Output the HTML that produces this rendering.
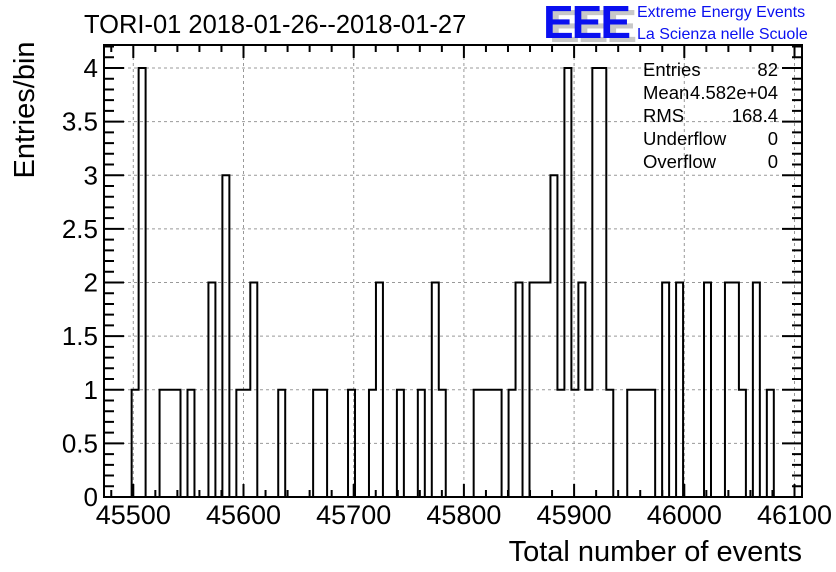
<!DOCTYPE html>
<html><head><meta charset="utf-8"><style>
html,body{margin:0;padding:0;background:#fff;}
svg{display:block;font-family:"Liberation Sans",Arial,sans-serif;}
</style></head><body>
<svg id="chart" width="836" height="572" viewBox="0 0 836 572" xmlns="http://www.w3.org/2000/svg">
<rect width="836" height="572" fill="#fff"/>
<g id="grid"></g>
<g id="hist"></g>
<g id="axes"></g>
<text x="84" y="33" font-size="25.5">TORI-01 2018-01-26--2018-01-27</text>
<text transform="translate(34,110) rotate(-90)" text-anchor="middle" font-size="29">Entries/bin</text>
<text x="802" y="561" text-anchor="end" font-size="29">Total number of events</text>
<g>
<text x="549" y="42" font-size="46" font-weight="bold" fill="#c8c8c8" letter-spacing="-2">EEE</text>
<text x="543" y="38" font-size="46" font-weight="bold" fill="#0a10f0" letter-spacing="-2">EEE</text>
<text x="637" y="17" font-size="16" fill="#0a10f0">Extreme Energy Events</text>
<text x="637" y="39" font-size="16" fill="#0a10f0">La Scienza nelle Scuole</text>
</g>
<g font-size="18.5">
<text x="643" y="76">Entries</text><text x="778" y="76" text-anchor="end">82</text>
<text x="643" y="99">Mean</text><text x="778" y="99" text-anchor="end">4.582e+04</text>
<text x="643" y="122">RMS</text><text x="778" y="122" text-anchor="end">168.4</text>
<text x="643" y="145">Underflow</text><text x="778" y="145" text-anchor="end">0</text>
<text x="643" y="168">Overflow</text><text x="778" y="168" text-anchor="end">0</text>
</g>
</svg>
<script>
const firstEdge = 45498.5;
const binWidth = 6.334;
const binCounts = [1,4,0,0,1,1,1,0,1,0,0,2,0,3,0,1,1,2,0,0,0,1,0,0,0,0,1,1,0,0,0,1,0,0,1,2,0,0,1,0,0,1,0,2,1,0,0,0,0,1,1,1,1,0,1,2,0,2,2,2,3,1,4,1,2,1,4,4,1,0,0,1,1,1,1,0,2,0,2,0,0,0,2,0,0,2,2,1,0,2,0,1];
const xTicks = [45500,45600,45700,45800,45900,46000,46100];
const yTicks = [0,0.5,1,1.5,2,2.5,3,3.5,4];
const yTickLabels = ["0","0.5","1","1.5","2","2.5","3","3.5","4"];

const L=104,R=802,T=45,B=497;
const xMin=45500-(133.3-L)/1.102, xMax=45500+(R-133.3)/1.102;
const yMax=(B-T)/107.25;
const X=v=>L+(v-xMin)/(xMax-xMin)*(R-L);
const Y=v=>B-v/yMax*(B-T);
const NS="http://www.w3.org/2000/svg";
function mk(tag,attrs,parent){const e=document.createElementNS(NS,tag);for(const k in attrs)e.setAttribute(k,attrs[k]);parent.appendChild(e);return e;}
const grid=document.getElementById('grid'),hist=document.getElementById('hist'),axes=document.getElementById('axes');

xTicks.forEach(v=>{const l=mk('line',{x1:X(v),x2:X(v),y1:T,y2:B,stroke:'#999','stroke-dasharray':'3,3','stroke-width':1},grid);

});
yTicks.forEach(v=>{const l=mk('line',{x1:L,x2:R,y1:Y(v),y2:Y(v),stroke:'#999','stroke-dasharray':'3,3','stroke-width':1},grid);

});

let d='M'+X(firstEdge)+','+Y(0);
binCounts.forEach((c,i)=>{const x0=X(firstEdge+i*binWidth),x1=X(firstEdge+(i+1)*binWidth);d+=' L'+x0+','+Y(c)+' L'+x1+','+Y(c);});
d+=' L'+X(firstEdge+binCounts.length*binWidth)+','+Y(0);
const p=mk('path',{d:d,fill:'none',stroke:'#000','stroke-width':2},hist);



const fr=mk('rect',{x:L,y:T,width:R-L,height:B-T,fill:'none',stroke:'#000','stroke-width':2},axes);


let td='';
for(let v=45480;v<=46100;v+=20){const x=X(v);if(x<L||x>R)continue;const len=(v%100===0)?13:7;td+=`M${x},${B}V${B-len}M${x},${T}V${T+len}`;}
for(let k=0;k<=42;k++){const v=k*0.1;const y=Y(v);if(y<T)continue;const len=(k%5===0)?20:10;td+=`M${L},${y}H${L+len}M${R},${y}H${R-len}`;}
const tk=mk('path',{d:td,stroke:'#000','stroke-width':2,fill:'none'},axes);


xTicks.forEach(v=>{const t=mk('text',{x:X(v),y:524,'text-anchor':'middle','font-size':27},axes);t.textContent=v;

});
yTicks.forEach((v,i)=>{const t=mk('text',{x:L-6,y:Y(v)+9,'text-anchor':'end','font-size':26},axes);t.textContent=yTickLabels[i];

});
</script>
</body></html>
